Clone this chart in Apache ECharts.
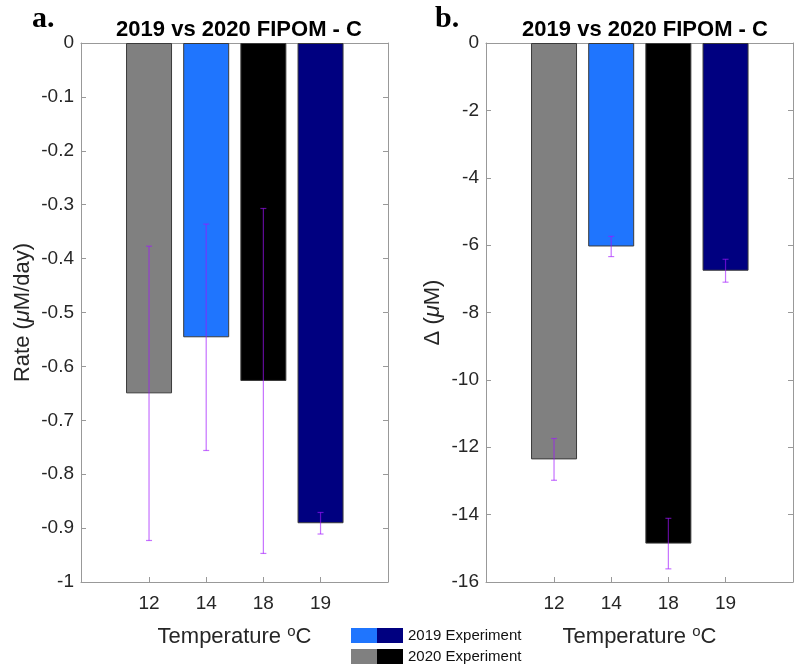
<!DOCTYPE html>
<html>
<head>
<meta charset="utf-8">
<script src="https://cdn.jsdelivr.net/npm/echarts@6/dist/echarts.min.js"></script>
<style>html,body{margin:0;padding:0;background:#fff}#c{width:795px;height:668px}</style>
</head>
<body>
<div id="c"></div>
<script>
// ---- data ----
const categories = ['12', '14', '18', '19'];
const rateMean = [-0.65, -0.546, -0.627, -0.891];
const rateErr = [0.273, 0.21, 0.32, 0.02];
const deltaMean = [-12.36, -6.04, -14.86, -6.76];
const deltaErr = [0.62, 0.30, 0.75, 0.34];
const barColors = ['#808080', '#1f75fe', '#000000', '#000080'];
const legendLabels = ['2019 Experiment', '2020 Experiment'];
const legendColors = [['#1f75fe', '#000080'], ['#808080', '#000000']];
const titleText = '2019 vs 2020 FIPOM - C';
const panelLabels = ['a.', 'b.'];

const FONT = 'Liberation Sans, Arial, sans-serif';
const AX = '#999999';
const TXT = '#262626';
const idx = categories.map((c, i) => i);

function barData(vals) {
  return vals.map((v, i) => ({ value: [i, v], itemStyle: { color: barColors[i] } }));
}
function errData(vals, errs) {
  return vals.map((v, i) => [i, v - errs[i], v + errs[i]]);
}
function errRender(params, api) {
  const x = api.value(0);
  const lo = api.coord([x, api.value(1)]);
  const hi = api.coord([x, api.value(2)]);
  const w = 3;
  const style = { stroke: 'rgb(160,20,255)', lineWidth: 1.2, opacity: 0.6 };
  return {
    type: 'group',
    children: [
      { type: 'line', shape: { x1: lo[0], y1: lo[1], x2: hi[0], y2: hi[1] }, style },
      { type: 'line', shape: { x1: lo[0] - w, y1: lo[1], x2: lo[0] + w, y2: lo[1] }, style },
      { type: 'line', shape: { x1: hi[0] - w, y1: hi[1], x2: hi[0] + w, y2: hi[1] }, style }
    ]
  };
}

function xAxes(grid) {
  const common = {
    type: 'value', gridIndex: grid, min: -1.19, max: 4.18,
    axisLine: { show: true, onZero: false, lineStyle: { color: AX, width: 1 } },
    axisTick: { show: true, inside: true, length: 5, customValues: idx, lineStyle: { color: AX } },
    splitLine: { show: false }
  };
  return [
    Object.assign({}, common, {
      position: 'bottom',
      axisLabel: { show: true, customValues: idx, formatter: v => categories[Math.round(v)], color: TXT, fontSize: 19, fontFamily: FONT, margin: 12 },
      name: '{a|Temperature }{s|o}{a|C}', nameLocation: 'middle', nameGap: 42,
      nameTextStyle: { rich: { a: { fontSize: 22, fontFamily: FONT, color: TXT }, s: { fontSize: 15, fontFamily: FONT, color: TXT, verticalAlign: 'top', padding: [0, 0, 10, 0] } } }
    }),
    Object.assign({}, common, { position: 'top', axisLabel: { show: false } })
  ];
}
function yAxes(grid, min, interval, name, gap) {
  const common = {
    type: 'value', gridIndex: grid, min: min, max: 0, interval: interval,
    axisLine: { show: true, onZero: false, lineStyle: { color: AX, width: 1 } },
    axisTick: { show: true, inside: true, length: 5, lineStyle: { color: AX } },
    splitLine: { show: false }
  };
  return [
    Object.assign({}, common, {
      position: 'left',
      axisLabel: { color: TXT, fontSize: 19, fontFamily: FONT, margin: 7, formatter: v => String(+v.toFixed(2)) },
      name: name, nameLocation: 'middle', nameGap: gap,
      nameTextStyle: { rich: { a: { fontSize: 22, fontFamily: FONT, color: TXT }, i: { fontSize: 22, fontFamily: FONT, fontStyle: 'italic', color: TXT } } }
    }),
    Object.assign({}, common, { position: 'right', axisLabel: { show: false } })
  ];
}

const graphics = [];
panelLabels.forEach((t, k) => {
  graphics.push({ type: 'text', left: k === 0 ? 32 : 435, top: 4, style: { text: t, font: 'bold 30px "Liberation Serif", "Times New Roman", serif', fill: '#000' } });
});
legendLabels.forEach((t, k) => {
  const y = 628 + k * 21;
  graphics.push({ type: 'rect', shape: { x: 351, y: y, width: 26, height: 15 }, style: { fill: legendColors[k][0] } });
  graphics.push({ type: 'rect', shape: { x: 377, y: y, width: 26, height: 15 }, style: { fill: legendColors[k][1] } });
  graphics.push({ type: 'text', x: 408, y: y + 8, style: { text: t, font: '15px ' + FONT, fill: '#111', textVerticalAlign: 'middle' } });
});

const chart = echarts.init(document.getElementById('c'));
chart.setOption({
  animation: false,
  backgroundColor: '#fff',
  title: [
    { text: titleText, left: 234, top: 14, textAlign: 'center', textStyle: { fontFamily: FONT, fontWeight: 'bold', fontSize: 22, color: '#000' } },
    { text: titleText, left: 640, top: 14, textAlign: 'center', textStyle: { fontFamily: FONT, fontWeight: 'bold', fontSize: 22, color: '#000' } }
  ],
  grid: [
    { left: 81, top: 43, width: 307, height: 539 },
    { left: 486, top: 43, width: 307, height: 539 }
  ],
  xAxis: [].concat(xAxes(0), xAxes(1)),
  yAxis: [].concat(
    yAxes(0, -1, 0.1, '{a|Rate (}{i|μ}{a|M/day)}', 47),
    yAxes(1, -16, 2, '{a|Δ (}{i|μ}{a|M)}', 42)
  ),
  graphic: graphics,
  series: [
    { type: 'bar', xAxisIndex: 0, yAxisIndex: 0, barWidth: 46, data: barData(rateMean), itemStyle: { borderColor: '#3a3a3a', borderWidth: 1 } },
    { type: 'custom', xAxisIndex: 0, yAxisIndex: 0, renderItem: errRender, data: errData(rateMean, rateErr), z: 5 },
    { type: 'bar', xAxisIndex: 2, yAxisIndex: 2, barWidth: 46, data: barData(deltaMean), itemStyle: { borderColor: '#3a3a3a', borderWidth: 1 } },
    { type: 'custom', xAxisIndex: 2, yAxisIndex: 2, renderItem: errRender, data: errData(deltaMean, deltaErr), z: 5 }
  ]
});
</script>
</body>
</html>
